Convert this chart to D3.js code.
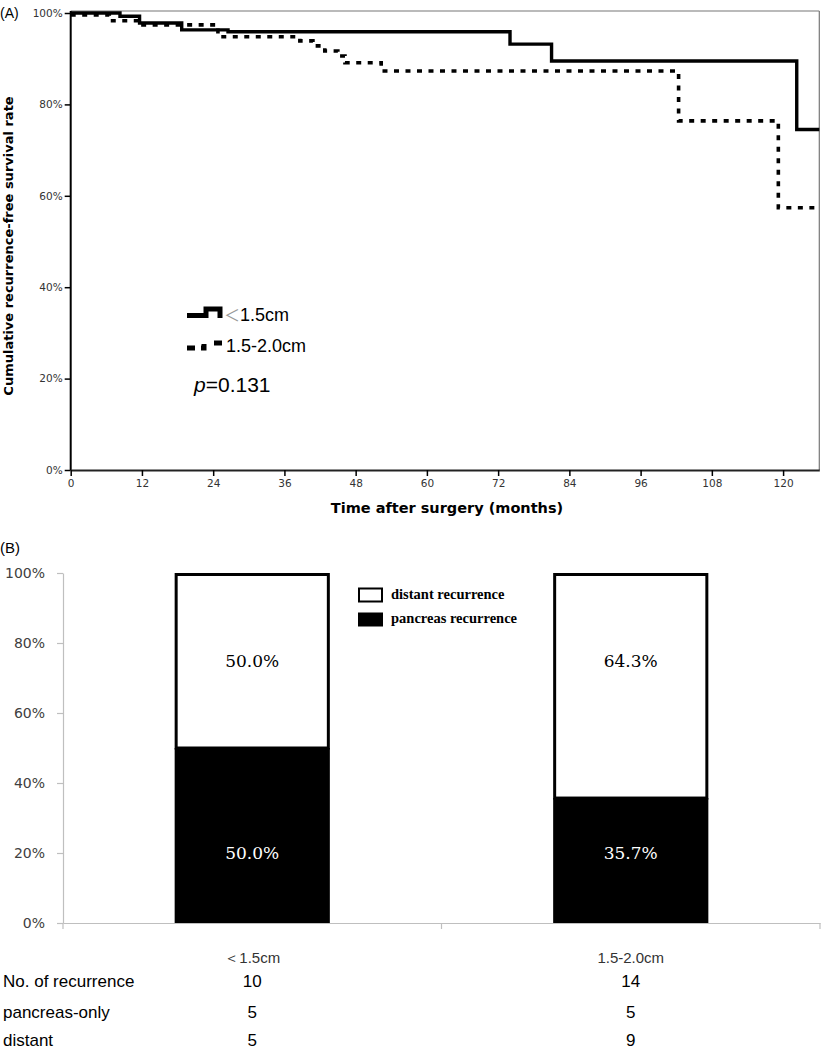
<!DOCTYPE html>
<html><head><meta charset="utf-8">
<script src="https://cdn.jsdelivr.net/npm/d3@7"></script>
<style>body{margin:0;background:#fff} svg{display:block}</style>
</head><body>
<svg id="c" width="823" height="1050"></svg>
<script>
// ---------- Panel A data (Kaplan-Meier) ----------
const kmGroups = ["＜1.5cm", "1.5-2.0cm"];
const kmSmallTime = [0, 8.3, 11.6, 18.7, 26.5, 74, 81, 122.3];
const kmSmallSurv = [100, 99.3, 97.8, 96.3, 95.9, 93.2, 89.5, 74.5];
const kmLargeTime = [0, 6.5, 11.6, 24.8, 38.6, 40.8, 42.8, 45, 46.2, 52.3, 102.4, 119.2];
const kmLargeSurv = [99.6, 98.3, 97.4, 94.8, 93.9, 92.8, 91.7, 90.6, 89.1, 87.3, 76.4, 57.4];
const kmMaxTime = 126.1;
const kmXTicks = [0, 12, 24, 36, 48, 60, 72, 84, 96, 108, 120];
const kmYTicks = [0, 20, 40, 60, 80, 100];
const pValue = "0.131";

// ---------- Panel B data (stacked bars) ----------
const barCategories = ["＜1.5cm", "1.5-2.0cm"];
const pancreasPct = [50.0, 35.7];
const distantPct = [50.0, 64.3];
const barSeries = ["distant recurrence", "pancreas recurrence"];
const barYTicks = [0, 20, 40, 60, 80, 100];
const tableRows = ["No. of recurrence", "pancreas-only", "distant"];
const recurrenceCounts = [10, 14];
const pancreasCounts = [5, 5];
const distantCounts = [5, 9];

const svg = d3.select("#c");
const SANS = "'Liberation Sans', Arial, sans-serif";
const DJ = "'DejaVu Sans', sans-serif";

// ================= PANEL A =================
const xA = d3.scaleLinear().domain([0, kmMaxTime]).range([70.7, 819.3]);
const yA = d3.scaleLinear().domain([0, 100]).range([470, 13]);
const gA = svg.append("g");

svg.append("text").attr("x", 0).attr("y", 18).attr("font-family", SANS).attr("font-size", 14).text("(A)");

// frame (top & right)
gA.append("line").attr("x1", xA(0)).attr("x2", xA(kmMaxTime)).attr("y1", 11).attr("y2", 11).attr("stroke", "#777").attr("stroke-width", 1.2);
gA.append("line").attr("x1", xA(kmMaxTime)).attr("x2", xA(kmMaxTime)).attr("y1", 11).attr("y2", yA(0)).attr("stroke", "#777").attr("stroke-width", 1.2);

const axL = gA.append("g").attr("transform", `translate(${xA(0)},0)`)
  .call(d3.axisLeft(yA).tickValues(kmYTicks).tickFormat(d => d + "%").tickSize(6).tickSizeOuter(0));
axL.select(".domain").attr("stroke", "#000").attr("stroke-width", 2).attr("d", `M0,11V${yA(0)}`);
axL.selectAll(".tick line").attr("stroke", "#000").attr("stroke-width", 1.5);
axL.selectAll(".tick text").attr("font-family", DJ).attr("font-size", 10.5).attr("fill", "#333").attr("x", -8);

const axB = gA.append("g").attr("transform", `translate(0,${yA(0)})`)
  .call(d3.axisBottom(xA).tickValues(kmXTicks).tickSize(6).tickSizeOuter(0));
axB.select(".domain").attr("stroke", "#222").attr("stroke-width", 2);
axB.selectAll(".tick line").attr("stroke", "#000").attr("stroke-width", 1.5);
axB.selectAll(".tick text").attr("font-family", DJ).attr("font-size", 10.5).attr("fill", "#333").attr("y", 10);

// axis titles
svg.append("text").attr("transform", `translate(13,246) rotate(-90)`).attr("text-anchor", "middle")
  .attr("font-family", DJ).attr("font-weight", "bold").attr("font-size", 13).text("Cumulative recurrence-free survival rate");
svg.append("text").attr("x", 447).attr("y", 513).attr("text-anchor", "middle")
  .attr("font-family", DJ).attr("font-weight", "bold").attr("font-size", 14.5).text("Time after surgery (months)");

// KM curves
const stepLine = d3.line().x(d => xA(d[0])).y(d => yA(d[1])).curve(d3.curveStepAfter);
function kmPoints(t, s) {
  const pts = t.map((v, i) => [v, s[i]]);
  pts.push([kmMaxTime, s[s.length - 1]]);
  return pts;
}
gA.append("path").attr("d", stepLine(kmPoints(kmSmallTime, kmSmallSurv)))
  .attr("fill", "none").attr("stroke", "#000").attr("stroke-width", 3.4);
gA.append("path").attr("d", stepLine(kmPoints(kmLargeTime, kmLargeSurv)))
  .attr("fill", "none").attr("stroke", "#000").attr("stroke-width", 3.6).attr("stroke-dasharray", "5,6.5");

// legend A
gA.append("path").attr("d", "M187,315.5H206V309H220V318").attr("fill", "none").attr("stroke", "#000").attr("stroke-width", 5);
gA.append("path").attr("d", "M187,348H204V343H222").attr("fill", "none").attr("stroke", "#000").attr("stroke-width", 5).attr("stroke-dasharray", "8,6,7,11,8,20");
const lt1 = gA.append("text").attr("x", 224).attr("y", 321).attr("font-family", SANS).attr("font-size", 18);
lt1.append("tspan").attr("fill", "#999").attr("font-family", "'Noto Sans CJK SC', sans-serif").attr("font-size", 16).text(kmGroups[0].slice(0, 1));
lt1.append("tspan").attr("fill", "#000").text(kmGroups[0].slice(1));
gA.append("text").attr("x", 226).attr("y", 352).attr("font-family", SANS).attr("font-size", 18).text(kmGroups[1]);
const pt = gA.append("text").attr("x", 194).attr("y", 392).attr("font-family", SANS).attr("font-size", 21);
pt.append("tspan").attr("font-style", "italic").text("p");
pt.append("tspan").text("=" + pValue);

// ================= PANEL B =================
svg.append("text").attr("x", 0).attr("y", 553).attr("font-family", SANS).attr("font-size", 15).text("(B)");

const yB = d3.scaleLinear().domain([0, 100]).range([923, 573]);
const xB = d3.scaleBand().domain(barCategories).range([63, 820]).padding(0);
const barW = xB.bandwidth() * 0.41;
const gB = svg.append("g");

const axBL = gB.append("g").attr("transform", "translate(63,0)")
  .call(d3.axisLeft(yB).tickValues(barYTicks).tickFormat(d => d + "%").tickSize(6).tickSizeOuter(0));
axBL.select(".domain").attr("stroke", "#bfbfbf").attr("stroke-width", 1.2);
axBL.selectAll(".tick line").attr("stroke", "#bfbfbf").attr("stroke-width", 1.2);
axBL.selectAll(".tick text").attr("font-family", DJ).attr("font-size", 14).attr("fill", "#404040").attr("x", -18);

const axBB = gB.append("g").attr("transform", `translate(0,923)`)
  .call(d3.axisBottom(xB).tickSize(0).tickSizeOuter(0));
axBB.select(".domain").attr("stroke", "#bfbfbf").attr("stroke-width", 1.2);
axBB.selectAll(".tick text").attr("font-family", SANS).attr("font-size", 15).attr("fill", "#333").attr("y", 29);
// category separator ticks
const sepVals = [63, xB(barCategories[1]), 820];
gB.selectAll(".sep").data(sepVals).join("line").attr("x1", d => d).attr("x2", d => d)
  .attr("y1", 923).attr("y2", 929).attr("stroke", "#bfbfbf").attr("stroke-width", 1.2);

const rows = barCategories.map((c, i) => ({ cat: c, pancreas: pancreasPct[i], distant: distantPct[i] }));
const stacked = d3.stack().keys(["pancreas", "distant"])(rows);

// pancreas (black)
gB.selectAll(".pan").data(stacked[0]).join("rect")
  .attr("x", d => xB(d.data.cat) + (xB.bandwidth() - barW) / 2)
  .attr("y", d => yB(d[1])).attr("width", barW).attr("height", d => yB(d[0]) - yB(d[1]))
  .attr("fill", "#000");
// distant (white, outlined)
gB.selectAll(".dis").data(stacked[1]).join("rect")
  .attr("x", d => xB(d.data.cat) + (xB.bandwidth() - barW) / 2 + 1.5)
  .attr("y", d => yB(d[1]) + 1.5).attr("width", barW - 3).attr("height", d => yB(d[0]) - yB(d[1]) - 1.5)
  .attr("fill", "#fff").attr("stroke", "#000").attr("stroke-width", 3);

// value labels
const labelTopAt = 74.8, labelBottomAt = 20;
const SERIF = "'DejaVu Serif', serif";
gB.selectAll(".lt").data(rows).join("text")
  .attr("x", d => xB(d.cat) + xB.bandwidth() / 2).attr("y", yB(labelTopAt))
  .attr("text-anchor", "middle").attr("dominant-baseline", "central")
  .attr("font-family", SERIF).attr("font-size", 17).attr("fill", "#000")
  .text(d => d.distant.toFixed(1) + "%");
gB.selectAll(".lb").data(rows).join("text")
  .attr("x", d => xB(d.cat) + xB.bandwidth() / 2).attr("y", yB(labelBottomAt))
  .attr("text-anchor", "middle").attr("dominant-baseline", "central")
  .attr("font-family", SERIF).attr("font-size", 17).attr("fill", "#fff")
  .text(d => d.pancreas.toFixed(1) + "%");

// legend B
gB.append("rect").attr("x", 359).attr("y", 588.5).attr("width", 23).attr("height", 13).attr("fill", "#fff").attr("stroke", "#000").attr("stroke-width", 2);
gB.append("rect").attr("x", 358).attr("y", 612.5).attr("width", 25).attr("height", 14).attr("fill", "#000");
gB.append("text").attr("x", 391).attr("y", 599).attr("font-family", "'Liberation Serif', serif").attr("font-weight", "bold").attr("font-size", 14.5).text(barSeries[0]);
gB.append("text").attr("x", 391).attr("y", 623).attr("font-family", "'Liberation Serif', serif").attr("font-weight", "bold").attr("font-size", 14.5).text(barSeries[1]);

// table
const tableVals = [recurrenceCounts, pancreasCounts, distantCounts];
const rowY = [987, 1018, 1046];
tableRows.forEach((r, i) => {
  svg.append("text").attr("x", 3).attr("y", rowY[i])
    .attr("font-family", SANS).attr("font-size", 17).attr("fill", "#000").text(r);
  barCategories.forEach((c, j) => {
    svg.append("text").attr("x", xB(c) + xB.bandwidth() / 2).attr("y", rowY[i])
      .attr("text-anchor", "middle").attr("font-family", SANS).attr("font-size", 17).attr("fill", "#000").text(tableVals[i][j]);
  });
});
</script>
</body></html>
